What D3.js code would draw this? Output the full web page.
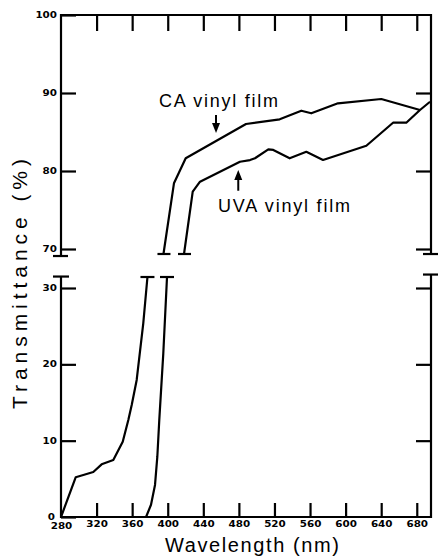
<!DOCTYPE html>
<html>
<head>
<meta charset="utf-8">
<script src="https://cdn.jsdelivr.net/npm/d3@7"></script>
<style>
  body { margin: 0; background: #fff; }
  svg { display: block; }
  .tick text { font-family: "DejaVu Sans", sans-serif; font-weight: bold; font-size: 8px; fill: #000; }
  .lbl { font-family: "Liberation Sans", Arial, sans-serif; fill: #000; }
</style>
</head>
<body>
<div id="chart"></div>
<script>
// Transmitância de filmes de vinil (eixo Y quebrado)

// Eixo X: comprimento de onda (nm)
const wavelengthTicks = [280, 320, 360, 400, 440, 480, 520, 560, 600, 640, 680];
const topTicks = [100, 90, 80, 70];
const bottomTicks = [30, 20, 10, 0];

// Séries [nm, %] - parte superior (70-100)
const caTop = [[395.2, 69.36], [407.0, 78.42], [420.2, 81.63], [488.0, 86.03], [525.9, 86.63],
  [550.2, 87.73], [561.4, 87.40], [591.4, 88.68], [640.1, 89.23], [683.6, 87.82]];
const uvaTop = [[418.3, 69.36], [428.1, 77.35], [436.3, 78.63], [481.2, 81.19], [492.5, 81.4],
  [498.1, 81.63], [513.1, 82.78], [518.7, 82.7], [537.1, 81.63], [555.8, 82.47], [574.6, 81.41],
  [623.3, 83.24], [653.3, 86.19], [668.2, 86.19], [683.6, 87.82], [694.9, 88.88]];

// Séries [nm, %] - parte inferior (0-30)
const caBottom = [[280, 0], [296.5, 5.2], [305.1, 5.5], [316.3, 5.9], [325.7, 6.9], [338.8, 7.47],
  [349.4, 9.87], [355.7, 12.7], [359.5, 14.67], [365.1, 17.95], [372.5, 25.37], [377.2, 31.44]];
const uvaBottom = [[375.6, 0], [381.2, 1.6], [385.7, 4.2], [388.3, 7.9], [390.5, 12.7],
  [395, 21.4], [399.2, 31.44]];

const width = 438, height = 557;

const svg = d3.select('#chart').append('svg')
  .attr('width', width)
  .attr('height', height);

// Escalas
const x = d3.scaleLinear().domain([280, 696]).range([61, 431]);
const yTop = d3.scaleLinear().domain([70, 100]).range([249, 15]);
const yBot = d3.scaleLinear().domain([0, 30]).range([517, 288]);

const topBreak = 69.1;   // fim do painel superior
const botBreak = 31.5;   // início do painel inferior

function seg(x1, y1, x2, y2, w) {
  svg.append('line')
    .attr('x1', x1).attr('y1', y1).attr('x2', x2).attr('y2', y2)
    .attr('stroke', '#000').attr('stroke-width', w || 2.2);
}

// Moldura
const xl = x(280), xr = x(696);
seg(xl, yTop(100), xr, yTop(100));
seg(xl, yTop(100) - 1, xl, yTop(topBreak));
seg(xr, yTop(100) - 1, xr, yTop(topBreak) - 2);
seg(xl, yBot(botBreak), xl, yBot(0) + 1);
seg(xr, yBot(botBreak) - 2, xr, yBot(0) + 1);
seg(xl - 1, yBot(0), xr + 1, yBot(0));
// marcas de quebra
seg(xl - 8, yTop(topBreak), xl + 7, yTop(topBreak));
seg(xl - 8, yBot(botBreak), xl + 8, yBot(botBreak));
seg(xr - 8, yTop(topBreak) - 2, xr + 7, yTop(topBreak) - 2);
seg(xr - 8, yBot(botBreak) - 2, xr + 7, yBot(botBreak) - 2);

function styleAxis(g) {
  g.select('.domain').remove();
  g.selectAll('.tick line').attr('stroke', '#000').attr('stroke-width', 2.2);
  g.selectAll('.tick text')
    .attr('textLength', function() { return this.textContent.length * 7.2; })
    .attr('lengthAdjust', 'spacingAndGlyphs');
}

// Eixo X inferior
svg.append('g')
  .attr('transform', `translate(0,${yBot(0)})`)
  .call(d3.axisBottom(x).tickValues(wavelengthTicks).tickSize(-14).tickPadding(4))
  .call(styleAxis)
  .call(g => g.selectAll('.tick').filter(d => d === 280).select('line').remove())
  .call(g => g.selectAll('.tick').filter(d => d === 280).select('text').attr('y', 6));

// Eixo X superior (só marcas)
svg.append('g')
  .attr('transform', `translate(0,${yTop(100)})`)
  .call(d3.axisTop(x).tickValues(wavelengthTicks.slice(1)).tickSize(-16).tickFormat(''))
  .call(styleAxis);

// Eixos Y esquerdos
svg.append('g')
  .attr('transform', `translate(${xl},0)`)
  .call(d3.axisLeft(yTop).tickValues(topTicks).tickSize(-15).tickPadding(4))
  .call(styleAxis);
svg.append('g')
  .attr('transform', `translate(${xl},0)`)
  .call(d3.axisLeft(yBot).tickValues(bottomTicks).tickSize(-15).tickPadding(4))
  .call(styleAxis)
  .call(g => g.selectAll('.tick').filter(d => d === 0).select('text').attr('x', -6));

// Eixos Y direitos (só marcas)
svg.append('g')
  .attr('transform', `translate(${xr},0)`)
  .call(d3.axisRight(yTop).tickValues(topTicks.slice(1)).tickSize(-15).tickFormat(''))
  .call(styleAxis);
svg.append('g')
  .attr('transform', `translate(${xr},0)`)
  .call(d3.axisRight(yBot).tickValues(bottomTicks.slice(0, 3)).tickSize(-15).tickFormat(''))
  .call(styleAxis);

// Curvas
function drawCurve(data, y, capStart, capEnd) {
  svg.append('path')
    .datum(data)
    .attr('fill', 'none')
    .attr('stroke', '#000')
    .attr('stroke-width', 2.2)
    .attr('stroke-linejoin', 'round')
    .attr('d', d3.line().x(d => x(d[0])).y(d => y(d[1])));
  if (capStart) {
    const d = data[0];
    seg(x(d[0]) - 6, y(d[1]), x(d[0]) + 7, y(d[1]));
  }
  if (capEnd) {
    const d = data[data.length - 1];
    seg(x(d[0]) - 7, y(d[1]), x(d[0]) + 7, y(d[1]));
  }
}

drawCurve(caTop, yTop, true, false);
drawCurve(uvaTop, yTop, true, false);
drawCurve(caBottom, yBot, false, true);
drawCurve(uvaBottom, yBot, false, true);

// Setas e rótulos
function arrow(nm, from, to) {
  const ax = x(nm), y1 = yTop(from), y2 = yTop(to);
  const dir = y2 > y1 ? 1 : -1;
  seg(ax, y1, ax, y2 - dir * 8, 2);
  svg.append('path')
    .attr('d', `M${ax - 4},${y2 - dir * 10} L${ax + 4},${y2 - dir * 10} L${ax},${y2} Z`)
    .attr('fill', '#000');
}
arrow(454.3, 87.18, 84.87);
arrow(479.3, 77.47, 80.13);

svg.append('text').attr('class', 'lbl')
  .attr('x', 159).attr('y', 107)
  .attr('font-size', 18)
  .attr('textLength', 119).attr('lengthAdjust', 'spacing')
  .text('CA vinyl film');

svg.append('text').attr('class', 'lbl')
  .attr('x', 218).attr('y', 212)
  .attr('font-size', 18)
  .attr('textLength', 132).attr('lengthAdjust', 'spacing')
  .text('UVA vinyl film');

// Títulos dos eixos
svg.append('text').attr('class', 'lbl')
  .attr('x', 252).attr('y', 552)
  .attr('font-size', 20)
  .attr('text-anchor', 'middle')
  .attr('textLength', 174).attr('lengthAdjust', 'spacing')
  .text('Wavelength (nm)');

svg.append('text').attr('class', 'lbl')
  .attr('transform', 'translate(27,284) rotate(-90)')
  .attr('font-size', 21)
  .attr('text-anchor', 'middle')
  .attr('textLength', 250).attr('lengthAdjust', 'spacing')
  .text('Transmittance (%)');
</script>
</body>
</html>
